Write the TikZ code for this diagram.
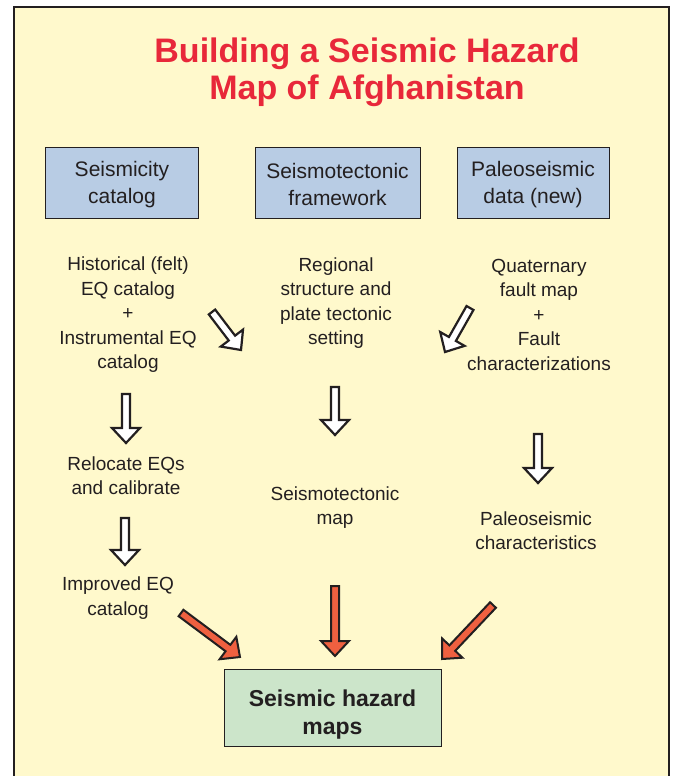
\documentclass[tikz,border=0pt]{standalone}
\usepackage{fontspec}
\setmainfont{Liberation Sans}
\usetikzlibrary{calc}
\definecolor{paper}{HTML}{FFF9CC}
\definecolor{hazred}{HTML}{E8283A}
\definecolor{srcblue}{HTML}{B8CCE4}
\definecolor{mapgreen}{HTML}{CCE5CA}
\definecolor{ink}{HTML}{231F20}
\definecolor{arrorange}{HTML}{EF6040}
% fat outlined arrow from tail #2 to tip #3
\newcommand\fatarrow[3][]{%
  \draw[fat,#1] ($(#2)!4pt!-90:(#3)$) -- ($(#3)!15pt!(#2)!4pt!-90:(#3)$)
    -- ($(#3)!15pt!(#2)!14pt!-90:(#3)$) -- (#3)
    -- ($(#3)!15pt!(#2)!14pt!90:(#3)$) -- ($(#3)!15pt!(#2)!4pt!90:(#3)$)
    -- ($(#2)!4pt!90:(#3)$) -- cycle;}
\begin{document}
\begin{tikzpicture}[x=1pt,y=1pt,
  txt/.style={text=ink,align=center,font=\fontsize{19}{24.5}\selectfont},
  src/.style={draw=ink,line width=.8pt,fill=srcblue,text=ink,align=center,
    minimum height=71pt,inner sep=0pt,text height=47pt,font=\fontsize{21}{27}\selectfont},
  fat/.style={draw=ink,line width=2.2pt,fill=white,line join=miter},
  hot/.style={fill=arrorange,line width=2pt}]
\useasboundingbox (0,0) rectangle (672,-776);
\draw[ink,line width=2pt,fill=paper] (14,-7) rectangle (669,-800);
\node[text=hazred,align=center,font=\fontsize{34}{37}\bfseries\selectfont] (title) at (367,-72)
  {Building a Seismic Hazard\\Map of Afghanistan};
% data sources
\node[src,minimum width=153pt] (cat) at (122,-182.5) {Seismicity\\catalog};
\node[src,minimum width=165pt] (frm) at (337.5,-182.5) {Seismotectonic\\framework};
\node[src,minimum width=152pt] (paleo) at (533,-182.5) {Paleoseismic\\data (new)};
% steps
\node[txt] (hist) at (128,-315) {Historical (felt)\\EQ catalog\\+\\Instrumental EQ\\catalog};
\node[txt] (reg) at (336,-303) {Regional\\structure and\\plate tectonic\\setting};
\node[txt] (quat) at (539,-314.5) {Quaternary\\fault map\\+\\Fault\\characterizations};
\node[txt] (reloc) at (126,-475.5) {Relocate EQs\\and calibrate};
\node[txt] (impr) at (118,-598) {Improved EQ\\catalog};
\node[txt] (stmap) at (335,-507.5) {Seismotectonic\\map};
\node[txt] (pchar) at (536,-530.5) {Paleoseismic\\characteristics};
\node[draw=ink,line width=.8pt,fill=mapgreen,text=ink,align=center,
  minimum width=217pt,minimum height=77pt,inner sep=0pt,text height=57pt,
  font=\fontsize{23}{28}\bfseries\selectfont] (haz) at (332.5,-708) {Seismic hazard\\maps};
% arrow ends
\coordinate (a1) at (212,-312); \coordinate (a1t) at (241,-350);
\coordinate (a2) at (470,-308); \coordinate (a2t) at (445,-352);
\coordinate (a3) at (126,-394); \coordinate (a3t) at (126,-443);
\coordinate (a4) at (125,-518); \coordinate (a4t) at (125,-565);
\coordinate (a5) at (335,-387); \coordinate (a5t) at (335,-435);
\coordinate (a6) at (538,-434); \coordinate (a6t) at (538,-483);
\coordinate (b1) at (181,-613); \coordinate (b1t) at (240,-657);
\coordinate (b2) at (335,-586); \coordinate (b2t) at (335,-656);
\coordinate (b3) at (493,-605); \coordinate (b3t) at (442,-659);
\foreach \a in {a1,a2,a3,a4,a5,a6}{\fatarrow{\a}{\a t}}
\foreach \b in {b1,b2,b3}{\fatarrow[hot]{\b}{\b t}}
\end{tikzpicture}
\end{document}
